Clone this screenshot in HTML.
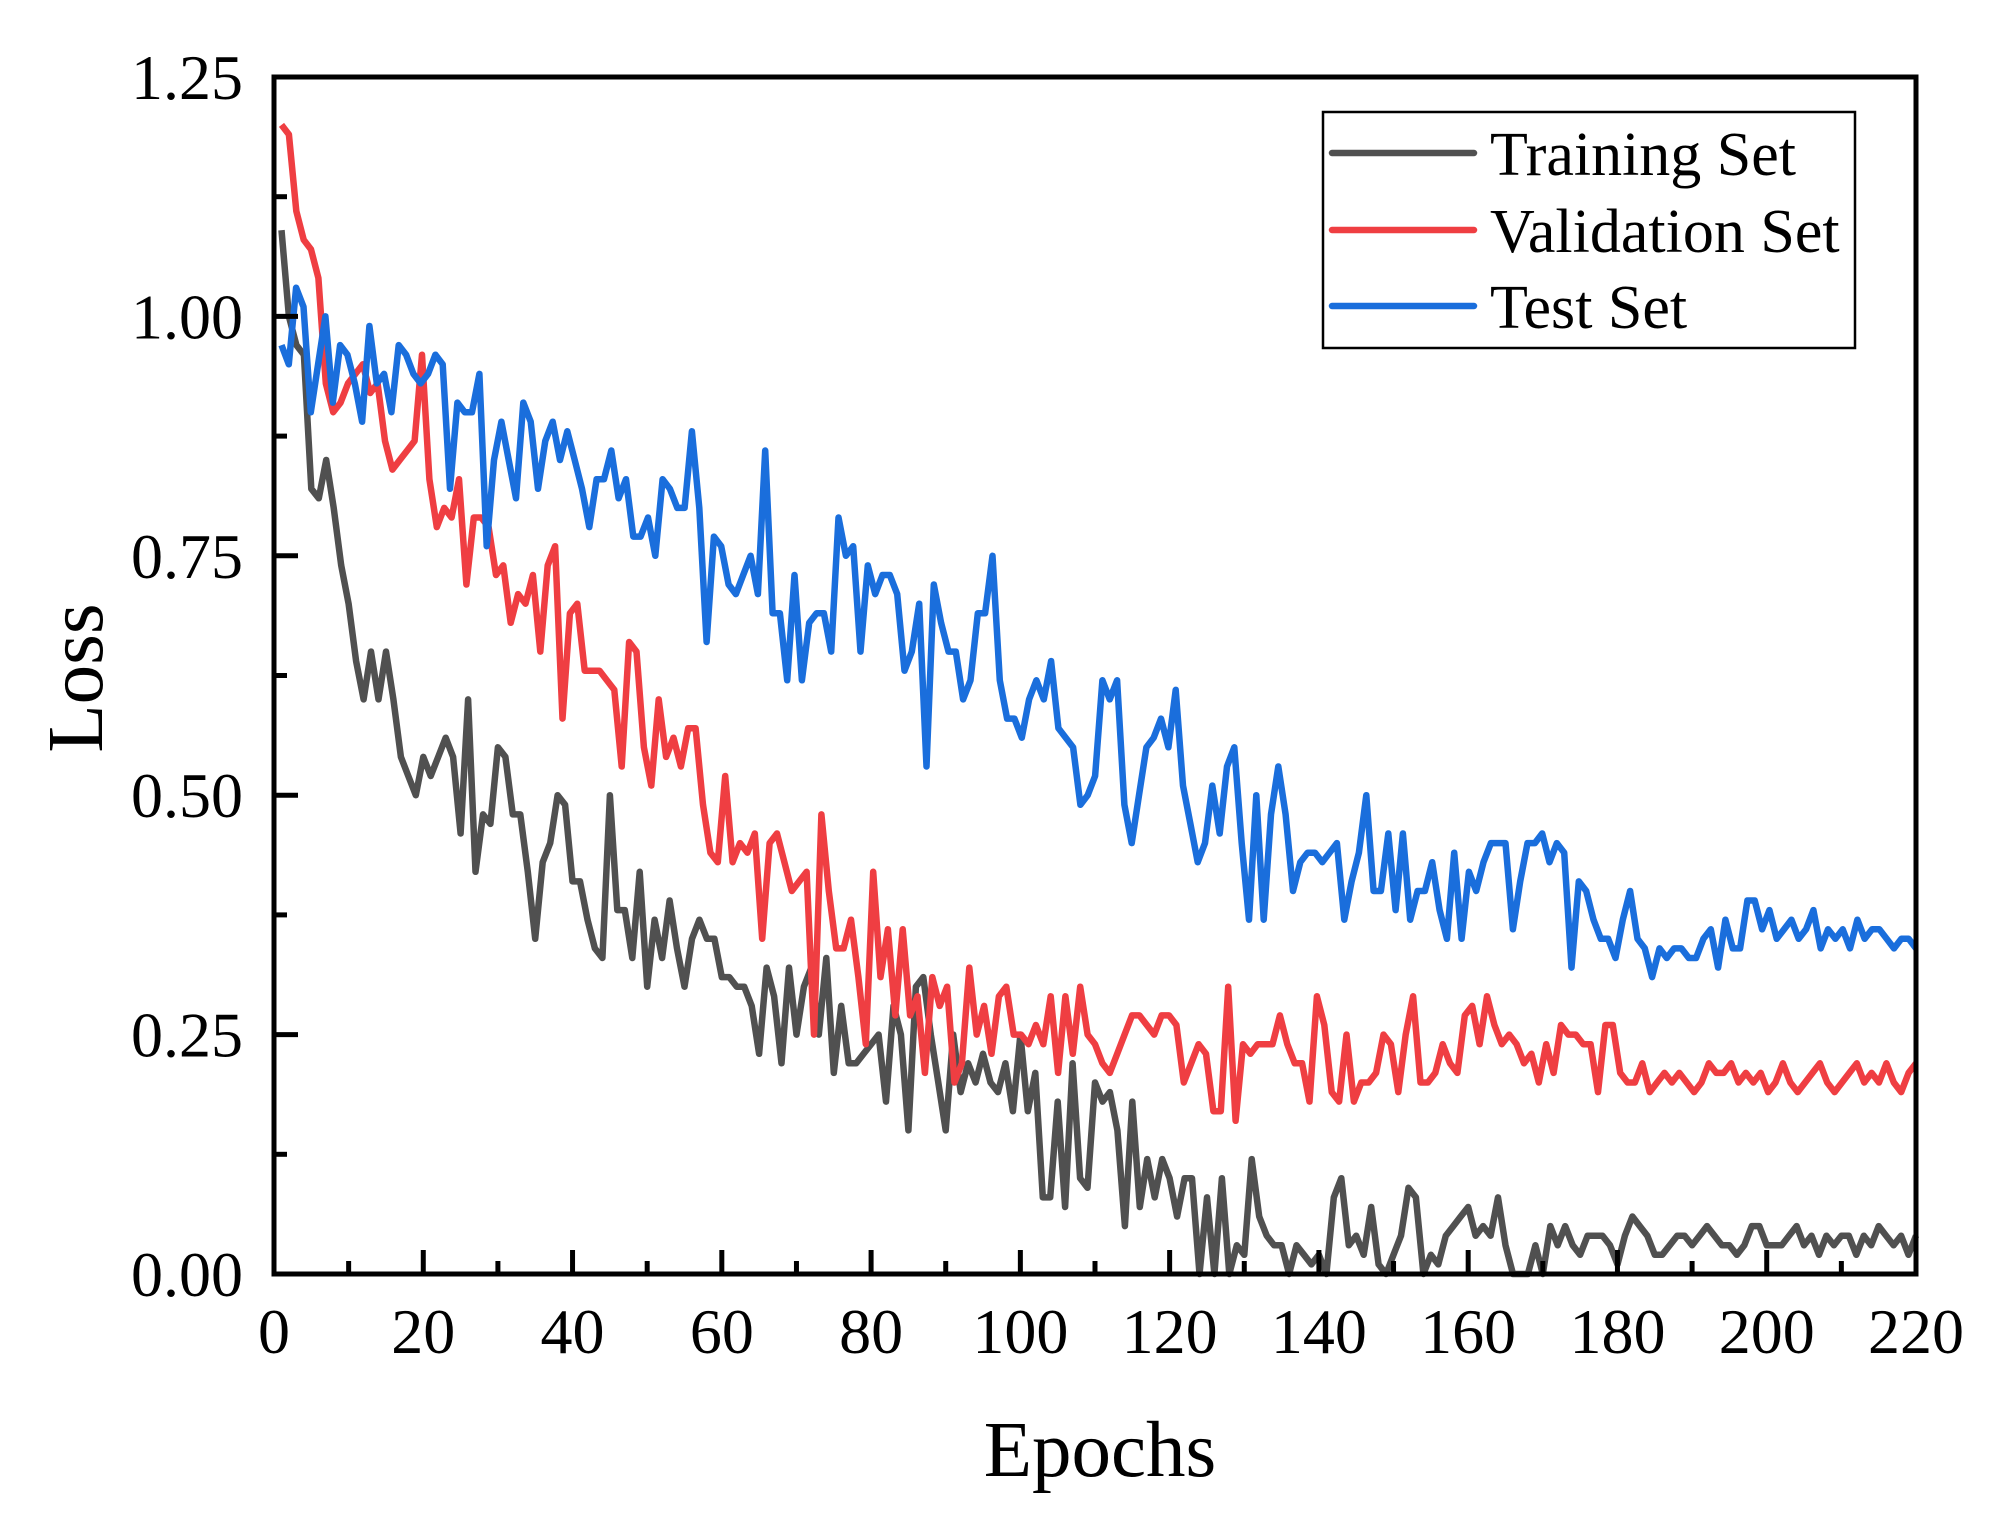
<!DOCTYPE html>
<html><head><meta charset="utf-8"><style>
body{margin:0;background:#fff}
svg text{font-family:"Liberation Serif",serif;fill:#000}
</style></head><body>
<svg id="chart" width="1995" height="1525" viewBox="0 0 1995 1525" xmlns="http://www.w3.org/2000/svg">
<g id="plot"></g>
<g id="axes"></g>
</svg>
<script>
const xTicks=[0,20,40,60,80,100,120,140,160,180,200,220];
const yTicks=[0,0.25,0.5,0.75,1.0,1.25];
const yTickLabels=["0.00","0.25","0.50","0.75","1.00","1.25"];
const seriesNames=["Training Set","Validation Set","Test Set"];
const training=[1.09,1.0,0.97,0.96,0.82,0.81,0.85,0.80,0.74,0.70,0.64,0.60,0.65,0.60,0.65,0.60,0.54,0.52,0.50,0.54,0.52,0.54,0.56,0.54,0.46,0.60,0.42,0.48,0.47,0.55,0.54,0.48,0.48,0.42,0.35,0.43,0.45,0.50,0.49,0.41,0.41,0.37,0.34,0.33,0.50,0.38,0.38,0.33,0.42,0.30,0.37,0.33,0.39,0.34,0.30,0.35,0.37,0.35,0.35,0.31,0.31,0.30,0.30,0.28,0.23,0.32,0.29,0.22,0.32,0.25,0.30,0.32,0.25,0.33,0.21,0.28,0.22,0.22,0.23,0.24,0.25,0.18,0.28,0.25,0.15,0.30,0.31,0.25,0.20,0.15,0.25,0.19,0.22,0.20,0.23,0.20,0.19,0.22,0.17,0.25,0.17,0.21,0.08,0.08,0.18,0.07,0.22,0.10,0.09,0.20,0.18,0.19,0.15,0.05,0.18,0.07,0.12,0.08,0.12,0.10,0.06,0.10,0.10,0.0,0.08,0.0,0.10,0.0,0.03,0.02,0.12,0.06,0.04,0.03,0.03,0.00,0.03,0.02,0.01,0.02,0.0,0.08,0.10,0.03,0.04,0.02,0.07,0.01,0.0,0.02,0.04,0.09,0.08,0.0,0.02,0.01,0.04,0.05,0.06,0.07,0.04,0.05,0.04,0.08,0.03,0.0,0.0,0.0,0.03,0.0,0.05,0.03,0.05,0.03,0.02,0.04,0.04,0.04,0.03,0.01,0.04,0.06,0.05,0.04,0.02,0.02,0.03,0.04,0.04,0.03,0.04,0.05,0.04,0.03,0.03,0.02,0.03,0.05,0.05,0.03,0.03,0.03,0.04,0.05,0.03,0.04,0.02,0.04,0.03,0.04,0.04,0.02,0.04,0.03,0.05,0.04,0.03,0.04,0.02,0.04];
const validation=[1.20,1.19,1.11,1.08,1.07,1.04,0.93,0.90,0.91,0.93,0.94,0.95,0.92,0.93,0.87,0.84,0.85,0.86,0.87,0.96,0.83,0.78,0.80,0.79,0.83,0.72,0.79,0.79,0.78,0.73,0.74,0.68,0.71,0.70,0.73,0.65,0.74,0.76,0.58,0.69,0.70,0.63,0.63,0.63,0.62,0.61,0.53,0.66,0.65,0.55,0.51,0.60,0.54,0.56,0.53,0.57,0.57,0.49,0.44,0.43,0.52,0.43,0.45,0.44,0.46,0.35,0.45,0.46,0.43,0.40,0.41,0.42,0.25,0.48,0.40,0.34,0.34,0.37,0.31,0.24,0.42,0.31,0.36,0.27,0.36,0.27,0.29,0.21,0.31,0.28,0.30,0.20,0.22,0.32,0.25,0.28,0.23,0.29,0.30,0.25,0.25,0.24,0.26,0.24,0.29,0.21,0.29,0.23,0.30,0.25,0.24,0.22,0.21,0.23,0.25,0.27,0.27,0.26,0.25,0.27,0.27,0.26,0.20,0.22,0.24,0.23,0.17,0.17,0.30,0.16,0.24,0.23,0.24,0.24,0.24,0.27,0.24,0.22,0.22,0.18,0.29,0.26,0.19,0.18,0.25,0.18,0.20,0.20,0.21,0.25,0.24,0.19,0.25,0.29,0.20,0.20,0.21,0.24,0.22,0.21,0.27,0.28,0.24,0.29,0.26,0.24,0.25,0.24,0.22,0.23,0.20,0.24,0.21,0.26,0.25,0.25,0.24,0.24,0.19,0.26,0.26,0.21,0.20,0.20,0.22,0.19,0.20,0.21,0.20,0.21,0.20,0.19,0.20,0.22,0.21,0.21,0.22,0.20,0.21,0.20,0.21,0.19,0.20,0.22,0.20,0.19,0.20,0.21,0.22,0.20,0.19,0.20,0.21,0.22,0.20,0.21,0.20,0.22,0.20,0.19,0.21,0.22];
const test=[0.97,0.95,1.03,1.01,0.90,0.95,1.00,0.91,0.97,0.96,0.93,0.89,0.99,0.93,0.94,0.90,0.97,0.96,0.94,0.93,0.94,0.96,0.95,0.82,0.91,0.90,0.90,0.94,0.76,0.85,0.89,0.85,0.81,0.91,0.89,0.82,0.87,0.89,0.85,0.88,0.85,0.82,0.78,0.83,0.83,0.86,0.81,0.83,0.77,0.77,0.79,0.75,0.83,0.82,0.80,0.80,0.88,0.80,0.66,0.77,0.76,0.72,0.71,0.73,0.75,0.71,0.86,0.69,0.69,0.62,0.73,0.62,0.68,0.69,0.69,0.65,0.79,0.75,0.76,0.65,0.74,0.71,0.73,0.73,0.71,0.63,0.65,0.70,0.53,0.72,0.68,0.65,0.65,0.60,0.62,0.69,0.69,0.75,0.62,0.58,0.58,0.56,0.60,0.62,0.60,0.64,0.57,0.56,0.55,0.49,0.50,0.52,0.62,0.60,0.62,0.49,0.45,0.50,0.55,0.56,0.58,0.55,0.61,0.51,0.47,0.43,0.45,0.51,0.46,0.53,0.55,0.45,0.37,0.50,0.37,0.48,0.53,0.48,0.40,0.43,0.44,0.44,0.43,0.44,0.45,0.37,0.41,0.44,0.50,0.40,0.40,0.46,0.38,0.46,0.37,0.40,0.40,0.43,0.38,0.35,0.44,0.35,0.42,0.40,0.43,0.45,0.45,0.45,0.36,0.41,0.45,0.45,0.46,0.43,0.45,0.44,0.32,0.41,0.40,0.37,0.35,0.35,0.33,0.37,0.40,0.35,0.34,0.31,0.34,0.33,0.34,0.34,0.33,0.33,0.35,0.36,0.32,0.37,0.34,0.34,0.39,0.39,0.36,0.38,0.35,0.36,0.37,0.35,0.36,0.38,0.34,0.36,0.35,0.36,0.34,0.37,0.35,0.36,0.36,0.35,0.34,0.35,0.35,0.34];

const NS="http://www.w3.org/2000/svg";
const L=274,R=1916,T=77,B=1274;
const xs=e=>L+(e-0)/(220-0)*(R-L);
const ys=v=>B-(v-0)/(1.25-0)*(B-T);
function mk(tag,attrs,parent){const el=document.createElementNS(NS,tag);for(const k in attrs)el.setAttribute(k,attrs[k]);parent.appendChild(el);return el;}
const plot=document.getElementById('plot'),axes=document.getElementById('axes');
const colors=["#505050","#ef3e42","#1a6edc"];
const names=["training-set-line","validation-set-line","test-set-line"];
[training,validation,test].forEach((arr,si)=>{
  const n=arr.length;
  const pts=arr.map((v,i)=>{const e=1+i*219/(n-1);return xs(e).toFixed(1)+","+ys(v).toFixed(1);}).join(" ");
  const pl=mk('polyline',{points:pts,fill:'none',stroke:colors[si],'stroke-width':6.5,'stroke-linejoin':'round'},plot);
  
  
});
const fr=mk('rect',{x:L,y:T,width:R-L,height:B-T,fill:'none',stroke:'#000','stroke-width':5},axes);


for(let e=0;e<=220;e+=10){
  const major=e%20===0;
  const t=mk('line',{x1:xs(e),x2:xs(e),y1:B,y2:B-(major?24:13),stroke:'#000','stroke-width':5},axes);
  
  
}
xTicks.forEach(e=>{
  const t=mk('text',{x:xs(e),y:1353,'font-size':64,'text-anchor':'middle'},axes);
  t.textContent=String(e);
  
  
});
for(let k=0;k<=10;k++){
  const v=k*0.125;const major=k%2===0;
  const t=mk('line',{x1:L,x2:L+(major?24:13),y1:ys(v),y2:ys(v),stroke:'#000','stroke-width':5},axes);
  
  
}
yTicks.forEach((v,i)=>{
  const t=mk('text',{x:243,y:ys(v)+22,'font-size':64,'text-anchor':'end'},axes);
  t.textContent=yTickLabels[i];
  
  
});
const xt=mk('text',{x:1100,y:1476,'font-size':79,'text-anchor':'middle'},axes);
xt.textContent="Epochs";


const yt=mk('text',{x:0,y:0,'font-size':79,'text-anchor':'middle',transform:'translate(102,678) rotate(-90)'},axes);
yt.textContent="Loss";


const lg=mk('g',{},axes);


mk('rect',{x:1323,y:112,width:532,height:236,fill:'#fff',stroke:'#000','stroke-width':2.5},lg);
const ly=[153,230,306];
seriesNames.forEach((nm,i)=>{
  const ln=mk('line',{x1:1332,x2:1474,y1:ly[i],y2:ly[i],stroke:colors[i],'stroke-width':6.5,'stroke-linecap':'round'},lg);
  
  
  const tx=mk('text',{x:1490,y:ly[i]+22,'font-size':62},lg);
  tx.textContent=nm;
  
  
});
</script>
</body></html>
